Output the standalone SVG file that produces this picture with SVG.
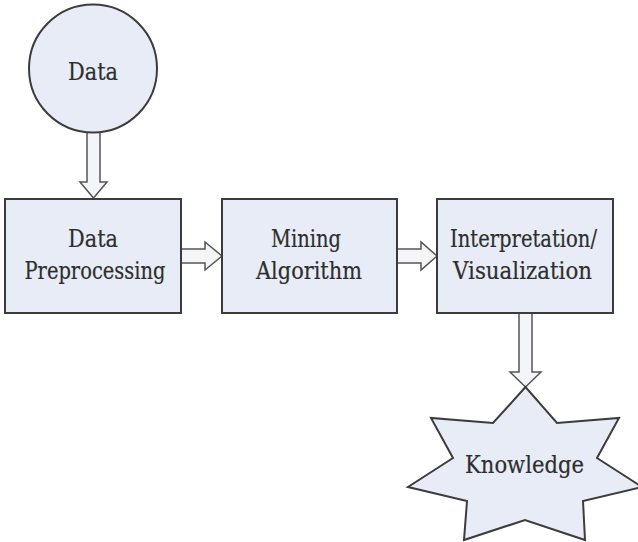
<svg xmlns="http://www.w3.org/2000/svg" width="638" height="542" viewBox="0 0 638 542">
  <style>
    .shape { fill: #e7ecf6; stroke: #3c3c3c; stroke-width: 2; }
    .label { font-family: 'DejaVu Serif', 'Liberation Serif', serif; font-size: 24px; fill: #2e2e2e; stroke: #2e2e2e; stroke-width: 0.2; text-anchor: middle; }
    .block-arrow { fill: #f4f5f8; stroke: #555555; stroke-width: 1.5; stroke-linejoin: miter; }
  </style>
  <rect width="638" height="542" fill="#ffffff"/>

  <!-- block arrows between stages -->
  <g id="connectors">
    <polygon class="block-arrow" points="87,132 100,132 100,182 107,182 93.5,198 80,182 87,182"/>
    <polygon class="block-arrow" points="181,249 205,249 205,242 222,256 205,270 205,263 181,263"/>
    <polygon class="block-arrow" points="397,249 421,249 421,242 437,256 421,270 421,263 397,263"/>
    <polygon class="block-arrow" points="519,313 532,313 532,372 541,372 525.5,387 510,372 519,372"/>
  </g>

  <g id="data">
    <circle class="shape" cx="93" cy="68.5" r="64"/>
    <text class="label" x="93" y="80" textLength="50" lengthAdjust="spacingAndGlyphs">Data</text>
  </g>

  <g id="preprocessing">
    <rect class="shape" x="5" y="199" width="176" height="114"/>
    <text class="label" x="93" y="247" textLength="50" lengthAdjust="spacingAndGlyphs">Data</text>
    <text class="label" x="95" y="279" textLength="141" lengthAdjust="spacingAndGlyphs">Preprocessing</text>
  </g>

  <g id="mining">
    <rect class="shape" x="222" y="199" width="175" height="114"/>
    <text class="label" x="306" y="247" textLength="70" lengthAdjust="spacingAndGlyphs">Mining</text>
    <text class="label" x="309" y="279" textLength="106" lengthAdjust="spacingAndGlyphs">Algorithm</text>
  </g>

  <g id="interpretation">
    <rect class="shape" x="437" y="199" width="176" height="114"/>
    <text class="label" x="523.5" y="247" textLength="147" lengthAdjust="spacingAndGlyphs">Interpretation/</text>
    <text class="label" x="522.5" y="279" textLength="139" lengthAdjust="spacingAndGlyphs">Visualization</text>
  </g>

  <g id="knowledge">
    <polygon class="shape" points="525.5,387 493,423 431,418 453,458 408,487 467,501 464,540 525,520 585,540 583,501 642,487 597,458 619,418 557,423"/>
    <text class="label" x="524.5" y="473" textLength="119" lengthAdjust="spacingAndGlyphs">Knowledge</text>
  </g>
</svg>
